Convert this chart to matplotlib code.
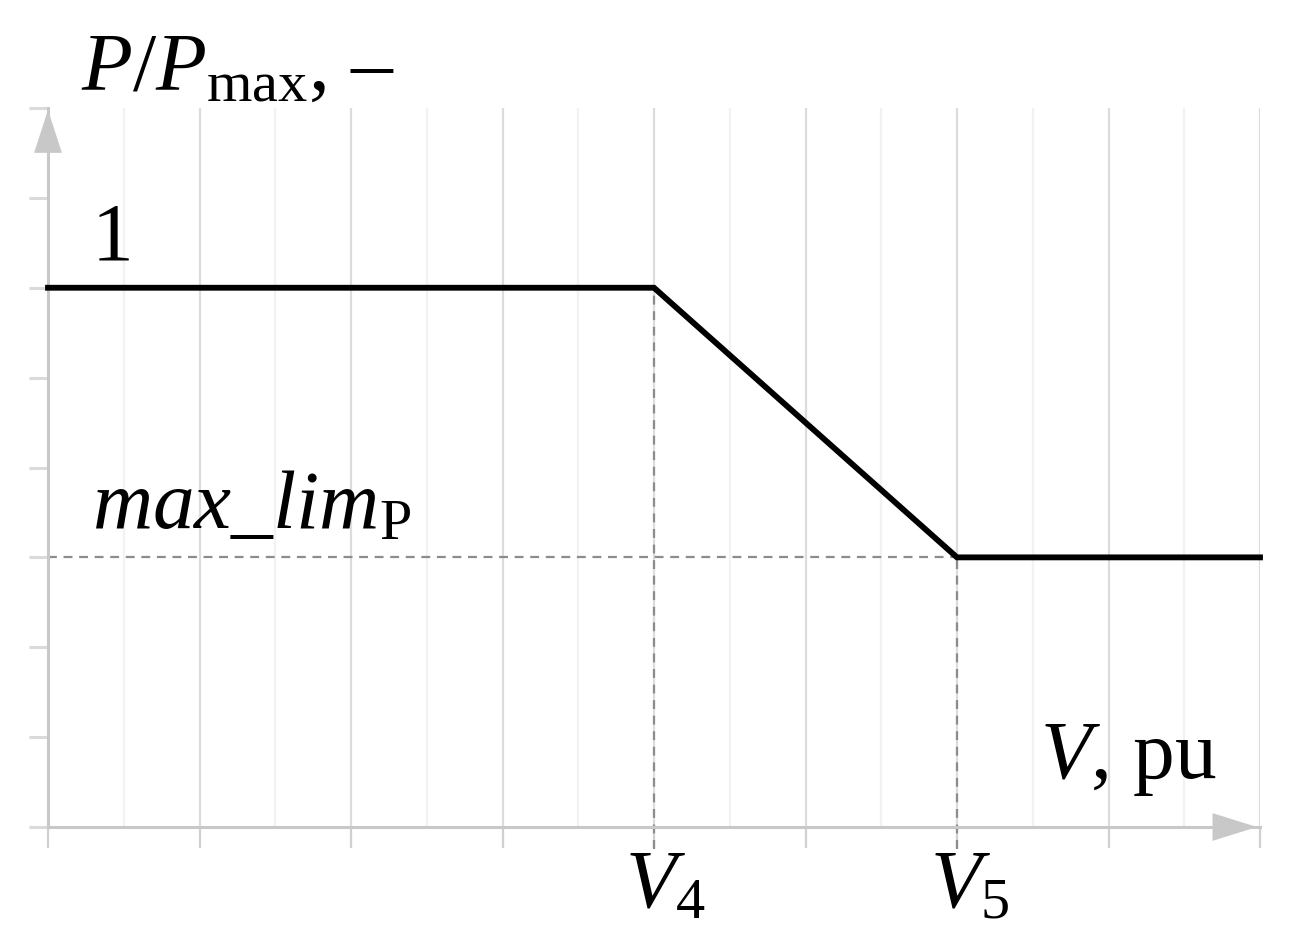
import matplotlib
matplotlib.use("Agg")
import matplotlib.pyplot as plt

# characteristic: P/Pmax vs V (schematic units)
v_pts = [0, 4, 6, 8]
p_pts = [6, 6, 3, 3]
v4, v5 = 4, 6
p_one, p_lim = 6, 3
x_major = list(range(0, 9))
x_minor = [i + 0.5 for i in range(8)]
y_ticks = list(range(0, 9))

plt.rcParams['mathtext.fontset'] = 'custom'
plt.rcParams['mathtext.rm'] = 'Liberation Serif'
plt.rcParams['mathtext.it'] = 'Liberation Serif:italic'
plt.rcParams['font.family'] = 'Liberation Serif'

fig = plt.figure(figsize=(12.93, 9.46), dpi=100)
W, H = 1293, 946
x0, x1, y0, y1 = 48, 1260, 827, 108
ax = fig.add_axes([x0 / W, 1 - y0 / H, (x1 - x0) / W, (y0 - y1) / H])
ax.set_xlim(0, 8)
ax.set_ylim(0, 8)

gc = '#c8c8c8'
# grid
for x in x_minor:
    ax.axvline(x, color='#f2f2f2', lw=1.6, zorder=0)
for x in x_major:
    ax.axvline(x, color='#dcdcdc', lw=1.6, zorder=0)

for s in ['top', 'right']:
    ax.spines[s].set_visible(False)
for s in ['left', 'bottom']:
    ax.spines[s].set_color(gc)
    ax.spines[s].set_linewidth(2.2)

ax.set_xticks(x_major)
ax.set_yticks(y_ticks)
ax.set_xticklabels([])
ax.set_yticklabels([])
ax.tick_params(axis='x', direction='out', length=15, width=1.6, color='#d0d0d0')
ax.tick_params(axis='y', direction='out', length=14, width=2.2, color='#dadada')

# arrows
ax.annotate('', xy=(0, 7.98), xytext=(0, 7.3), xycoords='data', annotation_clip=False,
            arrowprops=dict(arrowstyle='-|>,head_length=1.55,head_width=0.5',
                            mutation_scale=20, color=gc, lw=0, shrinkA=0, shrinkB=0))
ax.annotate('', xy=(7.98, 0), xytext=(7.4, 0), xycoords='data', annotation_clip=False,
            arrowprops=dict(arrowstyle='-|>,head_length=1.6,head_width=0.5',
                            mutation_scale=20, color=gc, lw=0, shrinkA=0, shrinkB=0))

# dashed helpers
dash = dict(color='#8c8c8c', lw=1.6, ls=(0, (4, 3)), zorder=2)
ax.plot([v4, v4], [-0.25, p_one], clip_on=False, **dash)
ax.plot([v5, v5], [-0.25, p_lim], clip_on=False, **dash)
ax.plot([0, v5], [p_lim, p_lim], **dash)

# main curve
ax.plot(v_pts, p_pts, color='black', lw=4.2, solid_joinstyle='miter', zorder=3, clip_on=False)

fs = 60
ax.text(0.22, 8.2, r'$P/P_{\mathrm{max}}$, –', fontsize=fs, va='baseline', ha='left')
ax.text(0.29, 6.31, '1', fontsize=fs, va='baseline', ha='left')
ax.text(0.29, 3.32, r'$max\_lim_{\mathrm{P}}$', fontsize=fs, va='baseline', ha='left')
ax.text(6.55, 0.545, r'$V$, pu', fontsize=fs, va='baseline', ha='left')
ax.text(3.81, -0.89, r'$V_{4}$', fontsize=fs, va='baseline', ha='left')
ax.text(5.82, -0.89, r'$V_{5}$', fontsize=fs, va='baseline', ha='left')

fig.savefig('out.png', dpi=100, facecolor='white')
